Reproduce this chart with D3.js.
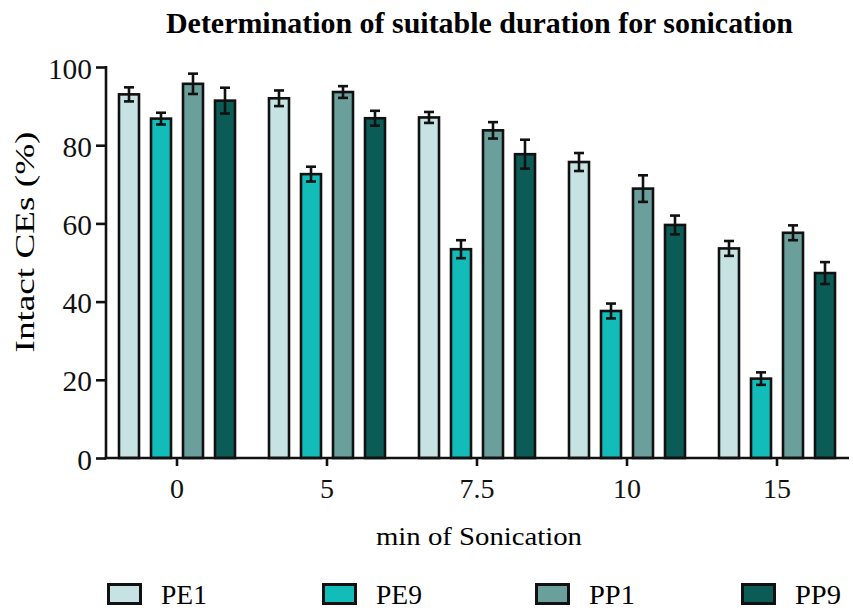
<!DOCTYPE html>
<html>
<head>
<meta charset="utf-8">
<script src="https://cdn.jsdelivr.net/npm/d3@7"></script>
<style>
  html, body { margin: 0; padding: 0; background: #fff; }
  svg { display: block; }
  svg text { font-family: "Times New Roman", "Liberation Serif", "DejaVu Serif Condensed", "DejaVu Serif", serif; font-stretch: condensed; }
</style>
</head>
<body>
<svg id="chart" width="853" height="610"></svg>
<script>
// ── Data ────────────────────────────────────────────────────────────────
const durations = ['0', '5', '7.5', '10', '15'];
const series    = ['PE1', 'PE9', 'PP1', 'PP9'];
const colors    = ['#c6e2e2', '#12bdb9', '#6a9f9b', '#0b5c57'];

const valuesPE1 = [93.0, 92.0, 87.1, 75.7, 53.6];
const valuesPE9 = [86.8, 72.6, 53.4, 37.6, 20.3];
const valuesPP1 = [95.7, 93.6, 83.8, 68.9, 57.6];
const valuesPP9 = [91.4, 86.9, 77.7, 59.6, 47.3];

const errPE1 = [1.8, 2.0, 1.4, 2.3, 1.9];
const errPE9 = [1.5, 1.9, 2.3, 1.9, 1.6];
const errPP1 = [2.6, 1.5, 2.1, 3.4, 1.9];
const errPP9 = [3.3, 1.9, 3.7, 2.4, 2.8];

const yTicks = [0, 20, 40, 60, 80, 100];

const allValues = [valuesPE1, valuesPE9, valuesPP1, valuesPP9];
const allErrors = [errPE1, errPE9, errPP1, errPP9];

// ── Layout ──────────────────────────────────────────────────────────────
const svg   = d3.select('#chart');
const axisX = 106;
const axisR = 849;

const x  = d3.scaleBand().domain(durations).range([102, 852]).padding(0);
const xs = d3.scaleBand().domain(series).range([-58, 58]).paddingInner(0.375);
const y  = d3.scaleLinear().domain([0, 100]).range([458, 67]);

// Title
svg.append('text')
  .attr('x', 479.5).attr('y', 33)
  .attr('text-anchor', 'middle')
  .attr('font-size', 29).attr('font-weight', 'bold')
  .attr('textLength', 627).attr('lengthAdjust', 'spacingAndGlyphs')
  .text('Determination of suitable duration for sonication');

// Bars
durations.forEach((d, gi) => {
  const g = svg.append('g').attr('transform', `translate(${x(d) + x.bandwidth() / 2},0)`);
  series.forEach((s, si) => {
    const v = allValues[si][gi];
    const e = allErrors[si][gi];
    g.append('rect')
      .attr('x', xs(s)).attr('width', xs.bandwidth())
      .attr('y', y(v)).attr('height', y(0) - y(v))
      .attr('fill', colors[si])
      .attr('stroke', '#111').attr('stroke-width', 2.6);
    const cx = xs(s) + xs.bandwidth() / 2;
    g.append('line')
      .attr('x1', cx).attr('x2', cx)
      .attr('y1', y(v + e)).attr('y2', y(v - e))
      .attr('stroke', '#111').attr('stroke-width', 2.6);
    [v + e, v - e].forEach(t => {
      g.append('line')
        .attr('x1', cx - 5).attr('x2', cx + 5)
        .attr('y1', y(t)).attr('y2', y(t))
        .attr('stroke', '#111').attr('stroke-width', 2.6);
    });
  });
});

// Y axis
const yAxis = svg.append('g')
  .attr('transform', `translate(${axisX},0)`)
  .call(d3.axisLeft(y).tickValues(yTicks).tickSize(10).tickSizeOuter(0).tickPadding(4));
yAxis.attr('font-family', null);
yAxis.select('.domain').remove();
yAxis.selectAll('.tick line').attr('stroke', '#111').attr('stroke-width', 2.6);
yAxis.selectAll('.tick text')
  .attr('font-size', 29).attr('fill', '#111').attr('dy', '0.38em')
  .attr('textLength', d => String(d).length * 14.7).attr('lengthAdjust', 'spacingAndGlyphs');
svg.append('line')
  .attr('x1', axisX).attr('x2', axisX)
  .attr('y1', y(100) - 1).attr('y2', y(0) + 1.3)
  .attr('stroke', '#111').attr('stroke-width', 2.6);

// X axis
const xAxis = svg.append('g')
  .attr('transform', `translate(0,${y(0)})`)
  .call(d3.axisBottom(x).tickSize(8).tickSizeOuter(0).tickPadding(12));
xAxis.attr('font-family', null);
xAxis.select('.domain').remove();
xAxis.selectAll('.tick line').attr('stroke', '#111').attr('stroke-width', 2.6);
xAxis.selectAll('.tick text')
  .attr('font-size', 28).attr('fill', '#111')
  .attr('textLength', d => d.replace('.', '').length * 14 + (d.includes('.') ? 7 : 0))
  .attr('lengthAdjust', 'spacingAndGlyphs');
svg.append('line')
  .attr('x1', axisX - 1.3).attr('x2', axisR)
  .attr('y1', y(0)).attr('y2', y(0))
  .attr('stroke', '#111').attr('stroke-width', 2.6);

// Axis titles
svg.append('text')
  .attr('transform', 'translate(34,242) rotate(-90)')
  .attr('text-anchor', 'middle')
  .attr('font-size', 28)
  .attr('textLength', 221).attr('lengthAdjust', 'spacingAndGlyphs')
  .text('Intact CEs (%)');

svg.append('text')
  .attr('x', 479).attr('y', 545)
  .attr('text-anchor', 'middle')
  .attr('font-size', 26)
  .attr('textLength', 206).attr('lengthAdjust', 'spacingAndGlyphs')
  .text('min of Sonication');

// Legend
const legendX = [107, 322, 535, 741];
series.forEach((s, i) => {
  svg.append('rect')
    .attr('x', legendX[i] + 1.5).attr('y', 584.5)
    .attr('width', 32).attr('height', 19)
    .attr('fill', colors[i])
    .attr('stroke', '#111').attr('stroke-width', 3);
  svg.append('text')
    .attr('x', legendX[i] + 54).attr('y', 604)
    .attr('font-size', 27)
    .attr('textLength', 46).attr('lengthAdjust', 'spacingAndGlyphs')
    .text(s);
});
</script>
</body>
</html>
